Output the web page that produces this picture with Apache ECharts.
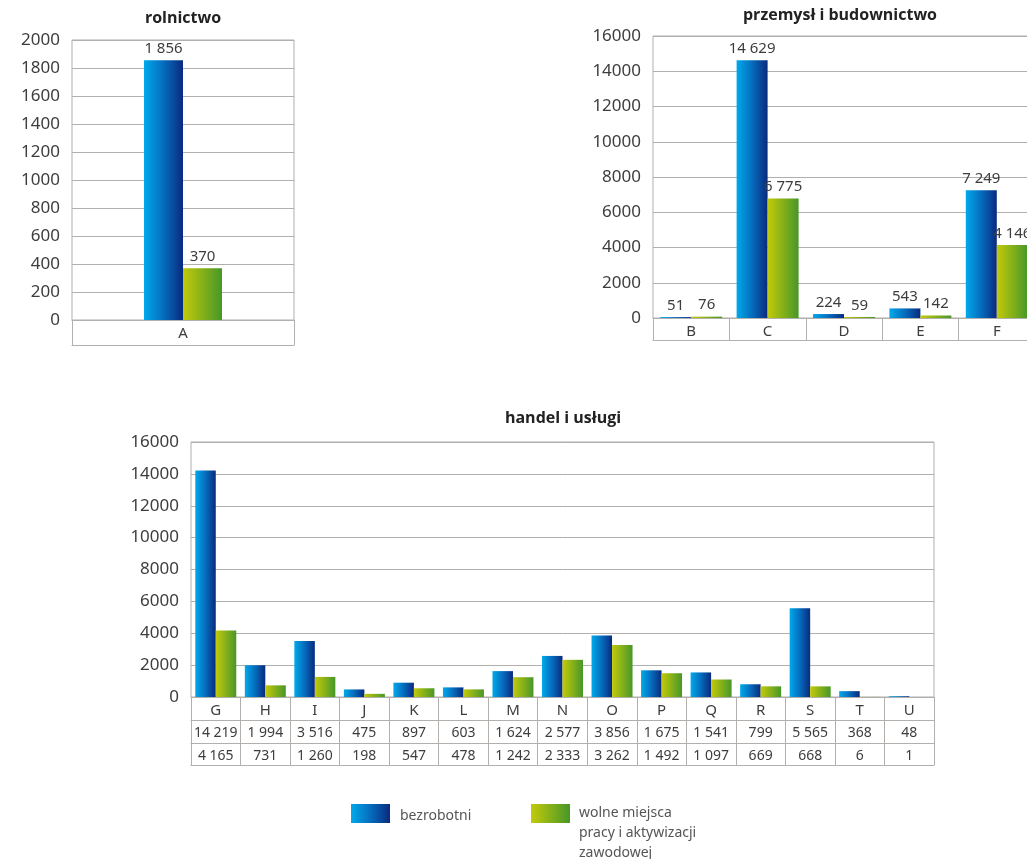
<!DOCTYPE html>
<html lang="pl">

<head>
    <meta charset="UTF-8">
    <title>bezrobotni i wolne miejsca pracy</title>
    <script src="https://cdn.jsdelivr.net/npm/echarts@6/dist/echarts.min.js"></script>
    <style>
        html, body { margin: 0; background: #fff; overflow: hidden; }
    </style>
</head>

<body>
    <!-- wykres jest szerszy niż okno: prawy wykres jest przycięty jak w oryginale -->
    <div id="main" style="width: 1040px;height:859px;"></div>
    <script type="text/javascript">
        // dane
        const seriesNames = ['bezrobotni', 'wolne miejsca\npracy i aktywizacji\nzawodowej'];
        const chartTitles = ['rolnictwo', 'przemysł i budownictwo', 'handel i usługi'];

        const catRol = ['A'];
        const rolBezrobotni = [1856];
        const rolWolne = [370];

        const catPrz = ['B', 'C', 'D', 'E', 'F'];
        const przBezrobotni = [51, 14629, 224, 543, 7249];
        const przWolne = [76, 6775, 59, 142, 4146];

        const catHan = ['G', 'H', 'I', 'J', 'K', 'L', 'M', 'N', 'O', 'P', 'Q', 'R', 'S', 'T', 'U'];
        const hanBezrobotni = [14219, 1994, 3516, 475, 897, 603, 1624, 2577, 3856, 1675, 1541, 799, 5565, 368, 48];
        const hanWolne = [4165, 731, 1260, 198, 547, 478, 1242, 2333, 3262, 1492, 1097, 669, 668, 6, 1];

        const fmt = v => String(v).replace(/\B(?=(\d{3})+(?!\d))/g, ' ');

        const lineColor = '#b3afac';
        const textColor = '#3d3d3d';
        const font = '"Noto Sans", "Open Sans", sans-serif';

        const blue = new echarts.graphic.LinearGradient(0, 0, 1, 0, [
            { offset: 0, color: '#00a9eb' },
            { offset: 0.5, color: '#066cbd' },
            { offset: 1, color: '#0a2a7e' }
        ]);
        const green = new echarts.graphic.LinearGradient(0, 0, 1, 0, [
            { offset: 0, color: '#c3ca0a' },
            { offset: 1, color: '#479729' }
        ]);

        let myChart = echarts.init(document.getElementById('main'));

        function yAxis(grid, max, interval) {
            return {
                gridIndex: grid, type: 'value', min: 0, max: max, interval: interval,
                axisLine: { show: false }, axisTick: { show: false },
                splitLine: { lineStyle: { color: lineColor, width: 1 } },
                axisLabel: { color: textColor, fontSize: 17, fontFamily: font, margin: 12, formatter: v => String(v) }
            };
        }

        function catAxis(grid, data, tickLen, fontSize) {
            return {
                gridIndex: grid, type: 'category', data: data,
                axisLine: { lineStyle: { color: lineColor } },
                axisTick: { show: true, length: tickLen, lineStyle: { color: lineColor } },
                axisLabel: { color: textColor, fontSize: fontSize, fontFamily: font, margin: 6, interval: 0 }
            };
        }

        function rowAxis(grid, data, offset) {
            return {
                gridIndex: grid, type: 'category', data: data, position: 'bottom', offset: offset,
                axisLine: { lineStyle: { color: lineColor } },
                axisTick: { show: false },
                axisLabel: { color: textColor, fontSize: 14, fontFamily: font, margin: 6, interval: 0 }
            };
        }

        const barLabel = {
            show: true, position: 'top', distance: 4, formatter: p => fmt(p.value),
            color: textColor, fontSize: 15, fontFamily: font
        };

        function bars(name, data, color, xi, yi, width, label) {
            return {
                name: name, type: 'bar', data: data, xAxisIndex: xi, yAxisIndex: yi,
                barWidth: width, barGap: 0,
                itemStyle: { color: color },
                label: label ? barLabel : { show: false },
                silent: true
            };
        }

        const gridStyle = { show: true, borderColor: lineColor, borderWidth: 1 };
        const titleFont = 'bold 16px "Open Sans", sans-serif';
        const legendFont = '14px "Noto Sans", sans-serif';

        let options = {
            animation: false,
            grid: [
                Object.assign({ left: 72, top: 40, width: 222, height: 280 }, gridStyle),
                Object.assign({ left: 653, top: 36, width: 382, height: 282 }, gridStyle),
                Object.assign({ left: 191, top: 442, width: 743, height: 255 }, gridStyle)
            ],
            xAxis: [
                catAxis(0, catRol, 25, 15),
                rowAxis(0, catRol.map(() => ''), 25),
                catAxis(1, catPrz, 22, 15),
                rowAxis(1, catPrz.map(() => ''), 22),
                catAxis(2, catHan, 68, 15),
                rowAxis(2, hanBezrobotni.map(fmt), 23),
                rowAxis(2, hanWolne.map(fmt), 46),
                rowAxis(2, catHan.map(() => ''), 68)
            ],
            yAxis: [
                yAxis(0, 2000, 200),
                yAxis(1, 16000, 2000),
                yAxis(2, 16000, 2000)
            ],
            series: [
                bars(seriesNames[0], rolBezrobotni, blue, 0, 0, 39, true),
                bars(seriesNames[1], rolWolne, green, 0, 0, 39, true),
                bars(seriesNames[0], przBezrobotni, blue, 2, 1, 31, true),
                bars(seriesNames[1], przWolne, green, 2, 1, 31, true),
                bars(seriesNames[0], hanBezrobotni, blue, 4, 2, 20.5, false),
                bars(seriesNames[1], hanWolne, green, 4, 2, 20.5, false)
            ],
            graphic: [
                { type: 'text', x: 183, y: 18, style: { text: chartTitles[0], align: 'center', verticalAlign: 'middle', font: titleFont, fill: '#222' } },
                { type: 'text', x: 840, y: 15, style: { text: chartTitles[1], align: 'center', verticalAlign: 'middle', font: titleFont, fill: '#222' } },
                { type: 'text', x: 563, y: 418, style: { text: chartTitles[2], align: 'center', verticalAlign: 'middle', font: titleFont, fill: '#222' } },
                // legenda
                { type: 'rect', shape: { x: 351, y: 804, width: 39, height: 19 }, style: { fill: blue } },
                { type: 'text', x: 400, y: 806, style: { text: seriesNames[0], font: legendFont, fill: '#555', lineHeight: 20 } },
                { type: 'rect', shape: { x: 531, y: 804, width: 39, height: 19 }, style: { fill: green } },
                { type: 'text', x: 579, y: 803, style: { text: seriesNames[1], font: legendFont, fill: '#555', lineHeight: 20 } }
            ]
        };

        myChart.setOption(options);
    </script>
</body>

</html>
